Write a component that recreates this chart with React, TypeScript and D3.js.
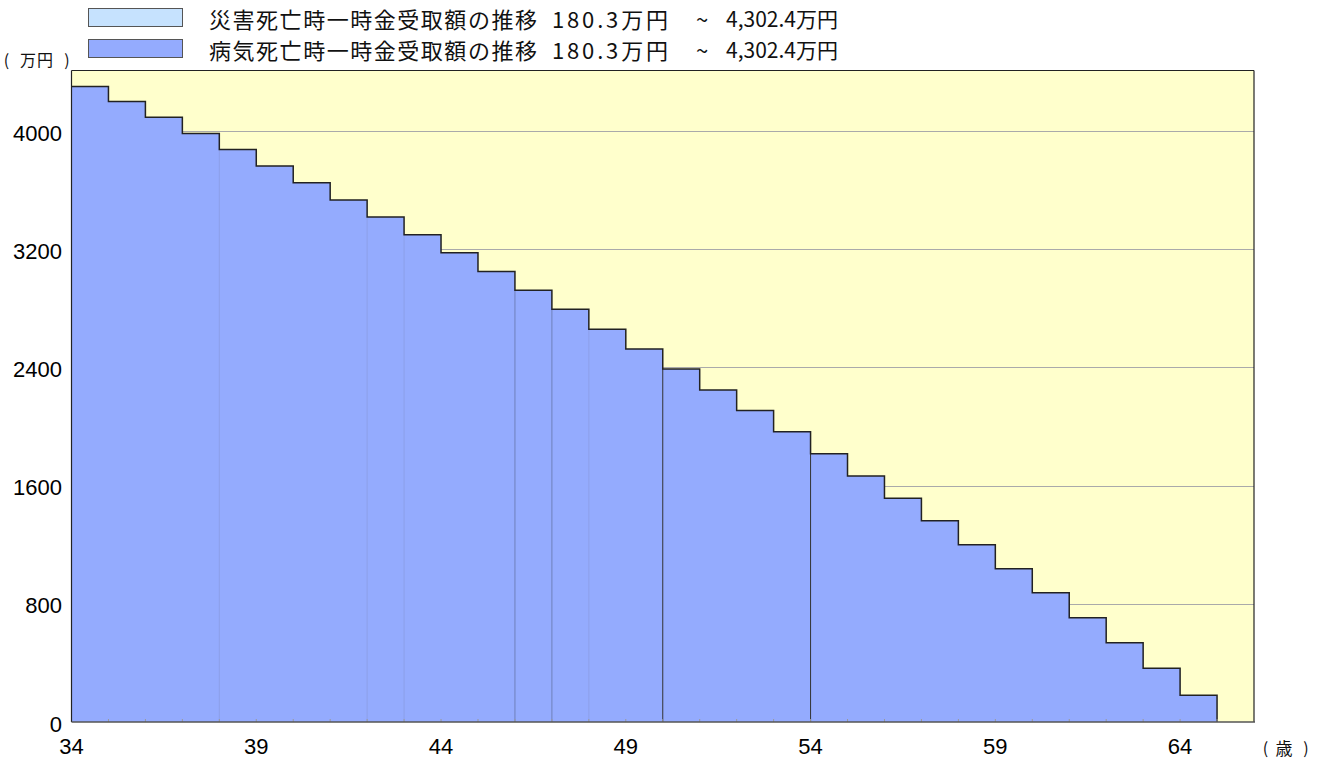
import React from "react";
import * as d3 from "d3";

const ages: number[] = [34,35,36,37,38,39,40,41,42,43,44,45,46,47,48,49,50,51,52,53,54,55,56,57,58,59,60,61,62,63,64];
const illnessValues: number[] = [4302.4,4201,4093,3984,3876,3763,3651,3533,3418,3299,3177,3049,2922,2794,2658,2525,2390,2248,2108,1964,1815,1666,1515,1362,1199,1037,875,706,536,363,180.3];
const accidentValues: number[] = [4302.4,4201,4093,3984,3876,3763,3651,3533,3418,3299,3177,3049,2922,2794,2658,2525,2390,2248,2108,1964,1815,1666,1515,1362,1199,1037,875,706,536,363,180.3];
const yTicks: number[] = [0, 800, 1600, 2400, 3200, 4000];
const xTicks: number[] = [34, 39, 44, 49, 54, 59, 64];
const legendNames: string[] = ["災害死亡時一時金受取額の推移", "病気死亡時一時金受取額の推移"];
const legendMins: string[] = ["180.3万円", "180.3万円"];
const legendMaxs: string[] = ["4,302.4万円", "4,302.4万円"];
const yUnit = "万円";
const xUnit = "歳";
const darkDividers: number[] = [50, 54];
const mediumDividers: number[] = [46, 47];
const faintDividers: number[] = [38, 42, 43, 48];

export default function App() {
  const W = 1321, H = 760;
  const left = 71.5, right = 1254, top = 70.5, bottom = 722;
  const x = d3.scaleLinear().domain([34, 66]).range([left, right]);
  const y = d3.scaleLinear().domain([0, 4410]).range([bottom, top]);

  const lastAge = ages[ages.length - 1] + 1;
  const pts = (vals: number[]) => [
    ...vals.map((v, i) => [ages[i], v] as [number, number]),
    [lastAge, vals[vals.length - 1]] as [number, number],
  ];
  const area = d3.area<[number, number]>()
    .x((d) => x(d[0])).y0(y(0)).y1((d) => y(d[1]))
    .curve(d3.curveStepAfter);
  const line = d3.line<[number, number]>()
    .x((d) => x(d[0])).y((d) => y(d[1]))
    .curve(d3.curveStepAfter);

  const illPts = pts(illnessValues);
  const accPts = pts(accidentValues);
  const outlinePts: [number, number][] = [...illPts, [lastAge, 0]];

  const font = "'Liberation Sans', Arial, sans-serif";
  const jp = "'Noto Sans CJK JP', sans-serif";

  const valAt = (a: number) => illnessValues[ages.indexOf(a)];

  return (
    <svg width={W} height={H} style={{ position: "absolute", left: 0, top: 0, background: "#fff" }}>
      {/* legend */}
      <rect x={88.5} y={8.5} width={94} height={18} fill="#c6e2fe" stroke="#555" strokeWidth={1} />
      <rect x={88.5} y={39.5} width={94} height={18} fill="#94abfe" stroke="#555" strokeWidth={1} />
      {legendNames.map((t, i) => {
        const cy = 18 + i * 31;
        return (
          <g key={i} fill="#111" fontFamily={jp} fontSize={22}>
            <text x={209} y={cy} dominantBaseline="central" textLength={328} lengthAdjust="spacing">{t}</text>
            <text x={552} y={cy} dominantBaseline="central" textLength={116} lengthAdjust="spacing">{legendMins[i]}</text>
            <text x={702} y={cy} dominantBaseline="central" textAnchor="middle">~</text>
            <text x={838} y={cy} dominantBaseline="central" textAnchor="end" fontSize={21}>{legendMaxs[i]}</text>
          </g>
        );
      })}
      <g fontFamily={jp} fill="#111" fontSize={16}>
        <text x={6.5} y={58.5} dominantBaseline="central" textAnchor="middle">(</text>
        <text x={20} y={58.5} dominantBaseline="central" textLength={33} lengthAdjust="spacing">{yUnit}</text>
        <text x={67} y={58.5} dominantBaseline="central" textAnchor="middle">)</text>
        <text x={1265.5} y={747} dominantBaseline="central" textAnchor="middle" fontSize={16}>(</text>
        <text x={1284} y={747} dominantBaseline="central" textAnchor="middle" fontSize={17}>{xUnit}</text>
        <text x={1306} y={747} dominantBaseline="central" textAnchor="middle" fontSize={16}>)</text>
      </g>

      {/* plot background */}
      <rect x={left} y={top} width={right - left} height={bottom - top} fill="#ffffcc" />
      {yTicks.filter((t) => t > 0).map((t) => (
        <line key={t} x1={left} x2={right} y1={Math.round(y(t)) + 0.5} y2={Math.round(y(t)) + 0.5} stroke="#aaa" strokeWidth={1} />
      ))}

      {/* series */}
      <path d={area(accPts) || ""} fill="#c6e2fe" />
      <path d={area(illPts) || ""} fill="#94abfe" />
      {faintDividers.map((a) => (
        <line key={"f" + a} x1={x(a)} x2={x(a)} y1={y(valAt(a))} y2={bottom} stroke="#8899dd" strokeWidth={1} opacity={0.6} />
      ))}
      {mediumDividers.map((a) => (
        <line key={"m" + a} x1={x(a)} x2={x(a)} y1={y(valAt(a))} y2={bottom} stroke="#6677aa" strokeWidth={1} opacity={0.8} />
      ))}
      {darkDividers.map((a) => (
        <line key={"d" + a} x1={x(a)} x2={x(a)} y1={y(valAt(a))} y2={bottom} stroke="#333" strokeWidth={1} />
      ))}
      <path d={line(outlinePts) || ""} fill="none" stroke="#222" strokeWidth={1.5} />

      {/* minor ticks */}
      {d3.range(35, 66).map((a) => (
        <line key={"t" + a} x1={x(a)} x2={x(a)} y1={bottom - 3} y2={bottom} stroke="#999" strokeWidth={1} />
      ))}

      {/* frame */}
      <line x1={left} x2={right} y1={top} y2={top} stroke="#222" strokeWidth={1.2} />
      <line x1={left} x2={left} y1={top} y2={bottom} stroke="#222" strokeWidth={1.2} />
      <line x1={right} x2={right} y1={top} y2={bottom} stroke="#222" strokeWidth={1.2} />
      <line x1={left} x2={right + 1} y1={bottom} y2={bottom} stroke="#555" strokeWidth={1.5} />

      {/* y labels */}
      {yTicks.map((t) => (
        <text key={t} x={62} y={y(t) + 2} textAnchor="end" dominantBaseline="central" fontFamily={font} fontSize={22} fill="#000">{t}</text>
      ))}
      {/* x labels */}
      {xTicks.map((t) => (
        <text key={t} x={x(t)} y={746} textAnchor="middle" dominantBaseline="central" fontFamily={font} fontSize={22} fill="#000">{t}</text>
      ))}
    </svg>
  );
}
